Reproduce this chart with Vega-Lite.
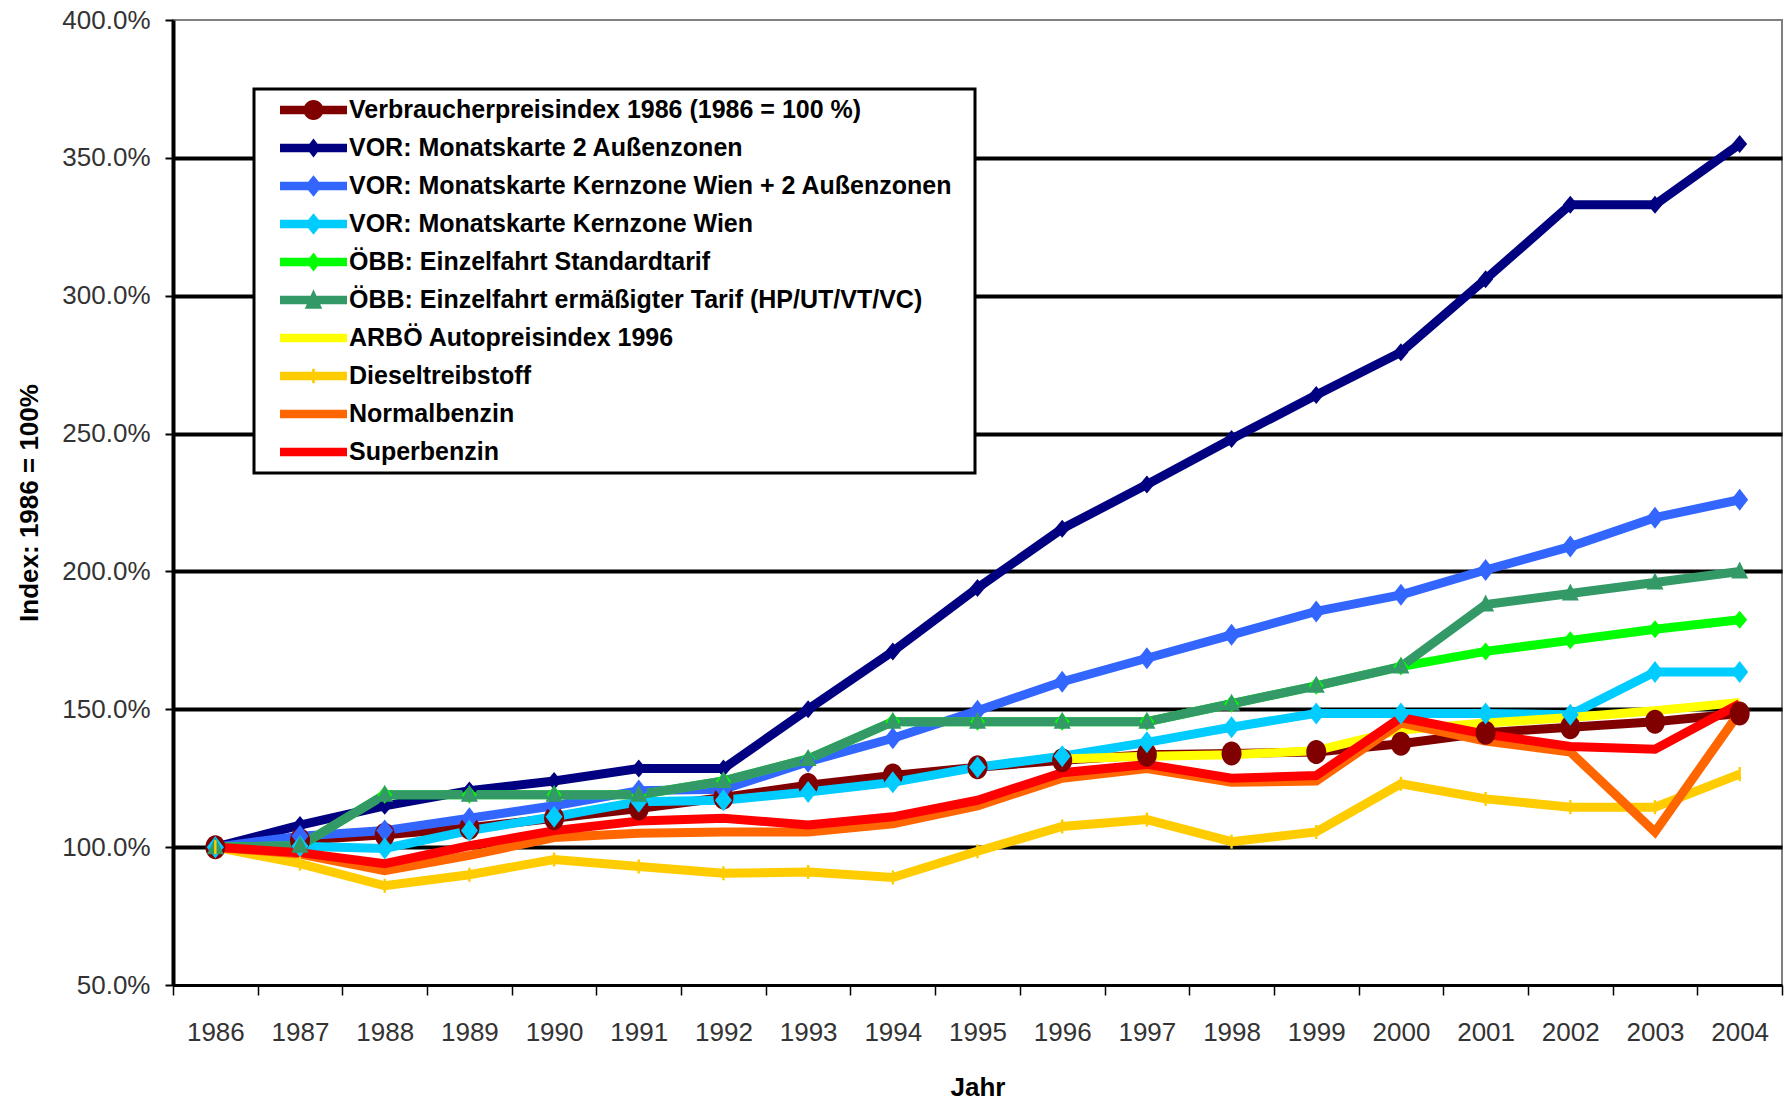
{
  "$schema": "https://vega.github.io/schema/vega-lite/v6.json",
  "width": 1609,
  "height": 965,
  "autosize": {"type": "none"},
  "padding": {"left": 173, "top": 20, "right": 2, "bottom": 119},
  "background": "white",
  "config": {
    "view": {"stroke": "#808080", "strokeWidth": 2},
    "font": "Liberation Sans"
  },
  "data": {"values": [
    {"Jahr":"1986","Reihe":"Verbraucherpreisindex 1986 (1986 = 100 %)","Index":100},
    {"Jahr":"1987","Reihe":"Verbraucherpreisindex 1986 (1986 = 100 %)","Index":102.5},
    {"Jahr":"1988","Reihe":"Verbraucherpreisindex 1986 (1986 = 100 %)","Index":104.5},
    {"Jahr":"1989","Reihe":"Verbraucherpreisindex 1986 (1986 = 100 %)","Index":107},
    {"Jahr":"1990","Reihe":"Verbraucherpreisindex 1986 (1986 = 100 %)","Index":110.5},
    {"Jahr":"1991","Reihe":"Verbraucherpreisindex 1986 (1986 = 100 %)","Index":114},
    {"Jahr":"1992","Reihe":"Verbraucherpreisindex 1986 (1986 = 100 %)","Index":118},
    {"Jahr":"1993","Reihe":"Verbraucherpreisindex 1986 (1986 = 100 %)","Index":122.5},
    {"Jahr":"1994","Reihe":"Verbraucherpreisindex 1986 (1986 = 100 %)","Index":126},
    {"Jahr":"1995","Reihe":"Verbraucherpreisindex 1986 (1986 = 100 %)","Index":129},
    {"Jahr":"1996","Reihe":"Verbraucherpreisindex 1986 (1986 = 100 %)","Index":131.5},
    {"Jahr":"1997","Reihe":"Verbraucherpreisindex 1986 (1986 = 100 %)","Index":133.5},
    {"Jahr":"1998","Reihe":"Verbraucherpreisindex 1986 (1986 = 100 %)","Index":134},
    {"Jahr":"1999","Reihe":"Verbraucherpreisindex 1986 (1986 = 100 %)","Index":134.5},
    {"Jahr":"2000","Reihe":"Verbraucherpreisindex 1986 (1986 = 100 %)","Index":137.5},
    {"Jahr":"2001","Reihe":"Verbraucherpreisindex 1986 (1986 = 100 %)","Index":141.5},
    {"Jahr":"2002","Reihe":"Verbraucherpreisindex 1986 (1986 = 100 %)","Index":143.5},
    {"Jahr":"2003","Reihe":"Verbraucherpreisindex 1986 (1986 = 100 %)","Index":145.5},
    {"Jahr":"2004","Reihe":"Verbraucherpreisindex 1986 (1986 = 100 %)","Index":148.5},
    {"Jahr":"1986","Reihe":"VOR: Monatskarte 2 Außenzonen","Index":100},
    {"Jahr":"1987","Reihe":"VOR: Monatskarte 2 Außenzonen","Index":108},
    {"Jahr":"1988","Reihe":"VOR: Monatskarte 2 Außenzonen","Index":115},
    {"Jahr":"1989","Reihe":"VOR: Monatskarte 2 Außenzonen","Index":120.5},
    {"Jahr":"1990","Reihe":"VOR: Monatskarte 2 Außenzonen","Index":124},
    {"Jahr":"1991","Reihe":"VOR: Monatskarte 2 Außenzonen","Index":128.5},
    {"Jahr":"1992","Reihe":"VOR: Monatskarte 2 Außenzonen","Index":128.5},
    {"Jahr":"1993","Reihe":"VOR: Monatskarte 2 Außenzonen","Index":150},
    {"Jahr":"1994","Reihe":"VOR: Monatskarte 2 Außenzonen","Index":171},
    {"Jahr":"1995","Reihe":"VOR: Monatskarte 2 Außenzonen","Index":194},
    {"Jahr":"1996","Reihe":"VOR: Monatskarte 2 Außenzonen","Index":215.5},
    {"Jahr":"1997","Reihe":"VOR: Monatskarte 2 Außenzonen","Index":231.5},
    {"Jahr":"1998","Reihe":"VOR: Monatskarte 2 Außenzonen","Index":248},
    {"Jahr":"1999","Reihe":"VOR: Monatskarte 2 Außenzonen","Index":264},
    {"Jahr":"2000","Reihe":"VOR: Monatskarte 2 Außenzonen","Index":279.5},
    {"Jahr":"2001","Reihe":"VOR: Monatskarte 2 Außenzonen","Index":306},
    {"Jahr":"2002","Reihe":"VOR: Monatskarte 2 Außenzonen","Index":333},
    {"Jahr":"2003","Reihe":"VOR: Monatskarte 2 Außenzonen","Index":333},
    {"Jahr":"2004","Reihe":"VOR: Monatskarte 2 Außenzonen","Index":355},
    {"Jahr":"1986","Reihe":"VOR: Monatskarte Kernzone Wien + 2 Außenzonen","Index":100},
    {"Jahr":"1987","Reihe":"VOR: Monatskarte Kernzone Wien + 2 Außenzonen","Index":104},
    {"Jahr":"1988","Reihe":"VOR: Monatskarte Kernzone Wien + 2 Außenzonen","Index":106},
    {"Jahr":"1989","Reihe":"VOR: Monatskarte Kernzone Wien + 2 Außenzonen","Index":110.5},
    {"Jahr":"1990","Reihe":"VOR: Monatskarte Kernzone Wien + 2 Außenzonen","Index":115},
    {"Jahr":"1991","Reihe":"VOR: Monatskarte Kernzone Wien + 2 Außenzonen","Index":120.5},
    {"Jahr":"1992","Reihe":"VOR: Monatskarte Kernzone Wien + 2 Außenzonen","Index":121},
    {"Jahr":"1993","Reihe":"VOR: Monatskarte Kernzone Wien + 2 Außenzonen","Index":131},
    {"Jahr":"1994","Reihe":"VOR: Monatskarte Kernzone Wien + 2 Außenzonen","Index":139.5},
    {"Jahr":"1995","Reihe":"VOR: Monatskarte Kernzone Wien + 2 Außenzonen","Index":149.5},
    {"Jahr":"1996","Reihe":"VOR: Monatskarte Kernzone Wien + 2 Außenzonen","Index":160},
    {"Jahr":"1997","Reihe":"VOR: Monatskarte Kernzone Wien + 2 Außenzonen","Index":168.5},
    {"Jahr":"1998","Reihe":"VOR: Monatskarte Kernzone Wien + 2 Außenzonen","Index":177},
    {"Jahr":"1999","Reihe":"VOR: Monatskarte Kernzone Wien + 2 Außenzonen","Index":185.5},
    {"Jahr":"2000","Reihe":"VOR: Monatskarte Kernzone Wien + 2 Außenzonen","Index":191.5},
    {"Jahr":"2001","Reihe":"VOR: Monatskarte Kernzone Wien + 2 Außenzonen","Index":200.5},
    {"Jahr":"2002","Reihe":"VOR: Monatskarte Kernzone Wien + 2 Außenzonen","Index":209},
    {"Jahr":"2003","Reihe":"VOR: Monatskarte Kernzone Wien + 2 Außenzonen","Index":219.5},
    {"Jahr":"2004","Reihe":"VOR: Monatskarte Kernzone Wien + 2 Außenzonen","Index":226},
    {"Jahr":"1986","Reihe":"VOR: Monatskarte Kernzone Wien","Index":100},
    {"Jahr":"1987","Reihe":"VOR: Monatskarte Kernzone Wien","Index":100.3},
    {"Jahr":"1988","Reihe":"VOR: Monatskarte Kernzone Wien","Index":99.5},
    {"Jahr":"1989","Reihe":"VOR: Monatskarte Kernzone Wien","Index":106},
    {"Jahr":"1990","Reihe":"VOR: Monatskarte Kernzone Wien","Index":111},
    {"Jahr":"1991","Reihe":"VOR: Monatskarte Kernzone Wien","Index":116.5},
    {"Jahr":"1992","Reihe":"VOR: Monatskarte Kernzone Wien","Index":117},
    {"Jahr":"1993","Reihe":"VOR: Monatskarte Kernzone Wien","Index":120},
    {"Jahr":"1994","Reihe":"VOR: Monatskarte Kernzone Wien","Index":123.5},
    {"Jahr":"1995","Reihe":"VOR: Monatskarte Kernzone Wien","Index":129},
    {"Jahr":"1996","Reihe":"VOR: Monatskarte Kernzone Wien","Index":133},
    {"Jahr":"1997","Reihe":"VOR: Monatskarte Kernzone Wien","Index":138},
    {"Jahr":"1998","Reihe":"VOR: Monatskarte Kernzone Wien","Index":143.5},
    {"Jahr":"1999","Reihe":"VOR: Monatskarte Kernzone Wien","Index":148.5},
    {"Jahr":"2000","Reihe":"VOR: Monatskarte Kernzone Wien","Index":148.5},
    {"Jahr":"2001","Reihe":"VOR: Monatskarte Kernzone Wien","Index":148.5},
    {"Jahr":"2002","Reihe":"VOR: Monatskarte Kernzone Wien","Index":148},
    {"Jahr":"2003","Reihe":"VOR: Monatskarte Kernzone Wien","Index":163.5},
    {"Jahr":"2004","Reihe":"VOR: Monatskarte Kernzone Wien","Index":163.5},
    {"Jahr":"1986","Reihe":"ÖBB: Einzelfahrt Standardtarif","Index":100},
    {"Jahr":"1987","Reihe":"ÖBB: Einzelfahrt Standardtarif","Index":100.5},
    {"Jahr":"1988","Reihe":"ÖBB: Einzelfahrt Standardtarif","Index":119},
    {"Jahr":"1989","Reihe":"ÖBB: Einzelfahrt Standardtarif","Index":119},
    {"Jahr":"1990","Reihe":"ÖBB: Einzelfahrt Standardtarif","Index":119},
    {"Jahr":"1991","Reihe":"ÖBB: Einzelfahrt Standardtarif","Index":119},
    {"Jahr":"1992","Reihe":"ÖBB: Einzelfahrt Standardtarif","Index":124},
    {"Jahr":"1993","Reihe":"ÖBB: Einzelfahrt Standardtarif","Index":132},
    {"Jahr":"1994","Reihe":"ÖBB: Einzelfahrt Standardtarif","Index":145.5},
    {"Jahr":"1995","Reihe":"ÖBB: Einzelfahrt Standardtarif","Index":145.5},
    {"Jahr":"1996","Reihe":"ÖBB: Einzelfahrt Standardtarif","Index":145.5},
    {"Jahr":"1997","Reihe":"ÖBB: Einzelfahrt Standardtarif","Index":145.5},
    {"Jahr":"1998","Reihe":"ÖBB: Einzelfahrt Standardtarif","Index":152},
    {"Jahr":"1999","Reihe":"ÖBB: Einzelfahrt Standardtarif","Index":158.5},
    {"Jahr":"2000","Reihe":"ÖBB: Einzelfahrt Standardtarif","Index":165.5},
    {"Jahr":"2001","Reihe":"ÖBB: Einzelfahrt Standardtarif","Index":171},
    {"Jahr":"2002","Reihe":"ÖBB: Einzelfahrt Standardtarif","Index":175},
    {"Jahr":"2003","Reihe":"ÖBB: Einzelfahrt Standardtarif","Index":179},
    {"Jahr":"2004","Reihe":"ÖBB: Einzelfahrt Standardtarif","Index":182.5},
    {"Jahr":"1986","Reihe":"ÖBB: Einzelfahrt ermäßigter Tarif (HP/UT/VT/VC)","Index":100},
    {"Jahr":"1987","Reihe":"ÖBB: Einzelfahrt ermäßigter Tarif (HP/UT/VT/VC)","Index":100.5},
    {"Jahr":"1988","Reihe":"ÖBB: Einzelfahrt ermäßigter Tarif (HP/UT/VT/VC)","Index":119},
    {"Jahr":"1989","Reihe":"ÖBB: Einzelfahrt ermäßigter Tarif (HP/UT/VT/VC)","Index":119},
    {"Jahr":"1990","Reihe":"ÖBB: Einzelfahrt ermäßigter Tarif (HP/UT/VT/VC)","Index":119},
    {"Jahr":"1991","Reihe":"ÖBB: Einzelfahrt ermäßigter Tarif (HP/UT/VT/VC)","Index":119},
    {"Jahr":"1992","Reihe":"ÖBB: Einzelfahrt ermäßigter Tarif (HP/UT/VT/VC)","Index":124},
    {"Jahr":"1993","Reihe":"ÖBB: Einzelfahrt ermäßigter Tarif (HP/UT/VT/VC)","Index":132},
    {"Jahr":"1994","Reihe":"ÖBB: Einzelfahrt ermäßigter Tarif (HP/UT/VT/VC)","Index":145.5},
    {"Jahr":"1995","Reihe":"ÖBB: Einzelfahrt ermäßigter Tarif (HP/UT/VT/VC)","Index":145.5},
    {"Jahr":"1996","Reihe":"ÖBB: Einzelfahrt ermäßigter Tarif (HP/UT/VT/VC)","Index":145.5},
    {"Jahr":"1997","Reihe":"ÖBB: Einzelfahrt ermäßigter Tarif (HP/UT/VT/VC)","Index":145.5},
    {"Jahr":"1998","Reihe":"ÖBB: Einzelfahrt ermäßigter Tarif (HP/UT/VT/VC)","Index":152},
    {"Jahr":"1999","Reihe":"ÖBB: Einzelfahrt ermäßigter Tarif (HP/UT/VT/VC)","Index":158.5},
    {"Jahr":"2000","Reihe":"ÖBB: Einzelfahrt ermäßigter Tarif (HP/UT/VT/VC)","Index":165.5},
    {"Jahr":"2001","Reihe":"ÖBB: Einzelfahrt ermäßigter Tarif (HP/UT/VT/VC)","Index":188},
    {"Jahr":"2002","Reihe":"ÖBB: Einzelfahrt ermäßigter Tarif (HP/UT/VT/VC)","Index":192},
    {"Jahr":"2003","Reihe":"ÖBB: Einzelfahrt ermäßigter Tarif (HP/UT/VT/VC)","Index":196},
    {"Jahr":"2004","Reihe":"ÖBB: Einzelfahrt ermäßigter Tarif (HP/UT/VT/VC)","Index":200},
    {"Jahr":"1996","Reihe":"ARBÖ Autopreisindex 1996","Index":132},
    {"Jahr":"1997","Reihe":"ARBÖ Autopreisindex 1996","Index":133},
    {"Jahr":"1998","Reihe":"ARBÖ Autopreisindex 1996","Index":133.5},
    {"Jahr":"1999","Reihe":"ARBÖ Autopreisindex 1996","Index":135},
    {"Jahr":"2000","Reihe":"ARBÖ Autopreisindex 1996","Index":142.5},
    {"Jahr":"2001","Reihe":"ARBÖ Autopreisindex 1996","Index":145},
    {"Jahr":"2002","Reihe":"ARBÖ Autopreisindex 1996","Index":147},
    {"Jahr":"2003","Reihe":"ARBÖ Autopreisindex 1996","Index":149.5},
    {"Jahr":"2004","Reihe":"ARBÖ Autopreisindex 1996","Index":152.5},
    {"Jahr":"1986","Reihe":"Dieseltreibstoff","Index":100},
    {"Jahr":"1987","Reihe":"Dieseltreibstoff","Index":94},
    {"Jahr":"1988","Reihe":"Dieseltreibstoff","Index":86},
    {"Jahr":"1989","Reihe":"Dieseltreibstoff","Index":90},
    {"Jahr":"1990","Reihe":"Dieseltreibstoff","Index":95.5},
    {"Jahr":"1991","Reihe":"Dieseltreibstoff","Index":93},
    {"Jahr":"1992","Reihe":"Dieseltreibstoff","Index":90.5},
    {"Jahr":"1993","Reihe":"Dieseltreibstoff","Index":91},
    {"Jahr":"1994","Reihe":"Dieseltreibstoff","Index":89},
    {"Jahr":"1995","Reihe":"Dieseltreibstoff","Index":98.5},
    {"Jahr":"1996","Reihe":"Dieseltreibstoff","Index":107.5},
    {"Jahr":"1997","Reihe":"Dieseltreibstoff","Index":110},
    {"Jahr":"1998","Reihe":"Dieseltreibstoff","Index":102},
    {"Jahr":"1999","Reihe":"Dieseltreibstoff","Index":105.5},
    {"Jahr":"2000","Reihe":"Dieseltreibstoff","Index":123},
    {"Jahr":"2001","Reihe":"Dieseltreibstoff","Index":117.5},
    {"Jahr":"2002","Reihe":"Dieseltreibstoff","Index":114.5},
    {"Jahr":"2003","Reihe":"Dieseltreibstoff","Index":114.5},
    {"Jahr":"2004","Reihe":"Dieseltreibstoff","Index":126.5},
    {"Jahr":"1986","Reihe":"Normalbenzin","Index":100},
    {"Jahr":"1987","Reihe":"Normalbenzin","Index":97.5},
    {"Jahr":"1988","Reihe":"Normalbenzin","Index":91.5},
    {"Jahr":"1989","Reihe":"Normalbenzin","Index":97},
    {"Jahr":"1990","Reihe":"Normalbenzin","Index":103.5},
    {"Jahr":"1991","Reihe":"Normalbenzin","Index":105},
    {"Jahr":"1992","Reihe":"Normalbenzin","Index":105.5},
    {"Jahr":"1993","Reihe":"Normalbenzin","Index":105.5},
    {"Jahr":"1994","Reihe":"Normalbenzin","Index":108.5},
    {"Jahr":"1995","Reihe":"Normalbenzin","Index":115},
    {"Jahr":"1996","Reihe":"Normalbenzin","Index":125},
    {"Jahr":"1997","Reihe":"Normalbenzin","Index":128.5},
    {"Jahr":"1998","Reihe":"Normalbenzin","Index":123.5},
    {"Jahr":"1999","Reihe":"Normalbenzin","Index":124},
    {"Jahr":"2000","Reihe":"Normalbenzin","Index":145},
    {"Jahr":"2001","Reihe":"Normalbenzin","Index":138.5},
    {"Jahr":"2002","Reihe":"Normalbenzin","Index":134.5},
    {"Jahr":"2003","Reihe":"Normalbenzin","Index":105.5},
    {"Jahr":"2004","Reihe":"Normalbenzin","Index":149},
    {"Jahr":"1986","Reihe":"Superbenzin","Index":100},
    {"Jahr":"1987","Reihe":"Superbenzin","Index":98},
    {"Jahr":"1988","Reihe":"Superbenzin","Index":94},
    {"Jahr":"1989","Reihe":"Superbenzin","Index":100.5},
    {"Jahr":"1990","Reihe":"Superbenzin","Index":106},
    {"Jahr":"1991","Reihe":"Superbenzin","Index":109.5},
    {"Jahr":"1992","Reihe":"Superbenzin","Index":110.5},
    {"Jahr":"1993","Reihe":"Superbenzin","Index":108},
    {"Jahr":"1994","Reihe":"Superbenzin","Index":111},
    {"Jahr":"1995","Reihe":"Superbenzin","Index":117},
    {"Jahr":"1996","Reihe":"Superbenzin","Index":127},
    {"Jahr":"1997","Reihe":"Superbenzin","Index":130},
    {"Jahr":"1998","Reihe":"Superbenzin","Index":125},
    {"Jahr":"1999","Reihe":"Superbenzin","Index":126},
    {"Jahr":"2000","Reihe":"Superbenzin","Index":147},
    {"Jahr":"2001","Reihe":"Superbenzin","Index":141},
    {"Jahr":"2002","Reihe":"Superbenzin","Index":136.5},
    {"Jahr":"2003","Reihe":"Superbenzin","Index":135.5},
    {"Jahr":"2004","Reihe":"Superbenzin","Index":152}
  ]},
  "encoding": {
    "x": {
      "field": "Jahr", "type": "ordinal",
      "scale": {"paddingInner": 0, "paddingOuter": 0},
      "axis": {
        "title": "Jahr", "labelAngle": 0, "tickBand": "extent",
        "domainColor": "black", "domainWidth": 3,
        "tickColor": "black", "tickWidth": 1.5, "tickSize": 10,
        "labelFont": "Liberation Sans", "labelFontSize": 26, "labelColor": "#333333", "labelPadding": 24,
        "titleFont": "Liberation Sans", "titleFontSize": 26, "titleFontWeight": "bold", "titleColor": "black", "titlePadding": 29
      }
    },
    "y": {
      "field": "Index", "type": "quantitative",
      "scale": {"domain": [50, 400], "nice": false, "zero": false},
      "axis": {
        "title": "Index: 1986 = 100%",
        "values": [50, 100, 150, 200, 250, 300, 350, 400],
        "labelExpr": "format(datum.value, '.1f') + '%'",
        "domainColor": "black", "domainWidth": 4,
        "tickColor": "black", "tickWidth": 2, "tickSize": 8,
        "grid": true, "gridWidth": 4,
        "gridColor": {"condition": {"test": "datum.value >= 400 || datum.value <= 50", "value": "transparent"}, "value": "black"},
        "labelFont": "Liberation Sans", "labelFontSize": 26, "labelColor": "#333333", "labelPadding": 15,
        "titleFont": "Liberation Sans", "titleFontSize": 26, "titleFontWeight": "bold", "titleColor": "black", "titlePadding": 19
      }
    },
    "color": {
      "field": "Reihe", "type": "nominal",
      "scale": {
        "domain": ["Verbraucherpreisindex 1986 (1986 = 100 %)", "VOR: Monatskarte 2 Außenzonen", "VOR: Monatskarte Kernzone Wien + 2 Außenzonen", "VOR: Monatskarte Kernzone Wien", "ÖBB: Einzelfahrt Standardtarif", "ÖBB: Einzelfahrt ermäßigter Tarif (HP/UT/VT/VC)", "ARBÖ Autopreisindex 1996", "Dieseltreibstoff", "Normalbenzin", "Superbenzin"],
        "range": ["#800000", "#000080", "#3366FF", "#00CCFF", "#00FF00", "#339966", "#FFFF00", "#FFCC00", "#FF6600", "#FF0000"]
      },
      "legend": null
    }
  },
  "layer": [
    {
      "mark": {"type": "line", "strokeWidth": 9},
      "encoding": {
        "color": {
          "field": "Reihe", "type": "nominal",
          "legend": {
            "orient": "none", "legendX": 81, "legendY": 69,
            "title": ".", "titleOrient": "right", "titleOpacity": 0, "titleFontSize": 4, "titlePadding": 19,
            "symbolSize": 4489, "symbolStrokeWidth": 0, "symbolOffset": 24, "labelOffset": 2,
            "padding": 2, "clipHeight": 38, "rowPadding": 0,
            "labelFont": "Liberation Sans", "labelFontSize": 25, "labelFontWeight": "bold", "labelColor": "black", "labelLimit": 1200,
            "fillColor": "white", "strokeColor": "black",
            "encode": {
              "legend": {"update": {"strokeWidth": {"value": 3}}},
              "symbols": {"update": {
                "fill": {"scale": "color", "field": "value"},
                "stroke": {"value": "transparent"},
                "opacity": {"value": 1},
                "shape": {"signal": "['M-1,-0.13L1,-0.13L1,0.13L-1,0.13Z M-0.3,0A0.3,0.3 0 1,1 0.3,0A0.3,0.3 0 1,1 -0.3,0Z', 'M-1,-0.13L1,-0.13L1,0.13L-1,0.13Z M0,-0.28L0.22,0L0,0.28L-0.22,0Z', 'M-1,-0.13L1,-0.13L1,0.13L-1,0.13Z M0,-0.32L0.26,0L0,0.32L-0.26,0Z', 'M-1,-0.13L1,-0.13L1,0.13L-1,0.13Z M0,-0.32L0.26,0L0,0.32L-0.26,0Z', 'M-1,-0.13L1,-0.13L1,0.13L-1,0.13Z M0,-0.28L0.22,0L0,0.28L-0.22,0Z', 'M-1,-0.13L1,-0.13L1,0.13L-1,0.13Z M0,-0.32L0.26,0.26L-0.26,0.26Z', 'M-1,-0.13L1,-0.13L1,0.13L-1,0.13Z', 'M-1,-0.13L1,-0.13L1,0.13L-1,0.13Z M-0.04,-0.22L0.04,-0.22L0.04,0.22L-0.04,0.22Z', 'M-1,-0.13L1,-0.13L1,0.13L-1,0.13Z', 'M-1,-0.13L1,-0.13L1,0.13L-1,0.13Z'][indexof(['Verbraucherpreisindex 1986 (1986 = 100 %)', 'VOR: Monatskarte 2 Außenzonen', 'VOR: Monatskarte Kernzone Wien + 2 Außenzonen', 'VOR: Monatskarte Kernzone Wien', 'ÖBB: Einzelfahrt Standardtarif', 'ÖBB: Einzelfahrt ermäßigter Tarif (HP/UT/VT/VC)', 'ARBÖ Autopreisindex 1996', 'Dieseltreibstoff', 'Normalbenzin', 'Superbenzin'], datum.value)]"}
              }}
            }
          }
        }
      }
    },
    {
      "transform": [{"filter": {"field": "Reihe", "equal": "Verbraucherpreisindex 1986 (1986 = 100 %)"}}],
      "mark": {"type": "point", "filled": true, "opacity": 1, "size": 400, "strokeWidth": 0, "shape": "M-1,0A1,1.2 0 1,1 1,0A1,1.2 0 1,1 -1,0Z"}
    },
    {
      "transform": [{"filter": {"field": "Reihe", "oneOf": ["VOR: Monatskarte 2 Außenzonen", "ÖBB: Einzelfahrt Standardtarif"]}}],
      "mark": {"type": "point", "filled": true, "opacity": 1, "size": 400, "strokeWidth": 0, "shape": "M0,-0.9L0.75,0L0,0.9L-0.75,0Z"}
    },
    {
      "transform": [{"filter": {"field": "Reihe", "oneOf": ["VOR: Monatskarte Kernzone Wien + 2 Außenzonen", "VOR: Monatskarte Kernzone Wien"]}}],
      "mark": {"type": "point", "filled": true, "opacity": 1, "size": 400, "strokeWidth": 0, "shape": "M0,-1.1L0.85,0L0,1.1L-0.85,0Z"}
    },
    {
      "transform": [{"filter": {"field": "Reihe", "equal": "ÖBB: Einzelfahrt ermäßigter Tarif (HP/UT/VT/VC)"}}],
      "mark": {"type": "point", "filled": true, "opacity": 1, "size": 400, "strokeWidth": 0, "shape": "M0,-1L0.85,0.7L-0.85,0.7Z"}
    },
    {
      "transform": [{"filter": {"field": "Reihe", "equal": "Dieseltreibstoff"}}],
      "mark": {"type": "point", "filled": true, "opacity": 1, "size": 400, "strokeWidth": 0, "shape": "M-0.12,-0.7L0.12,-0.7L0.12,0.7L-0.12,0.7Z"}
    }
  ]
}
